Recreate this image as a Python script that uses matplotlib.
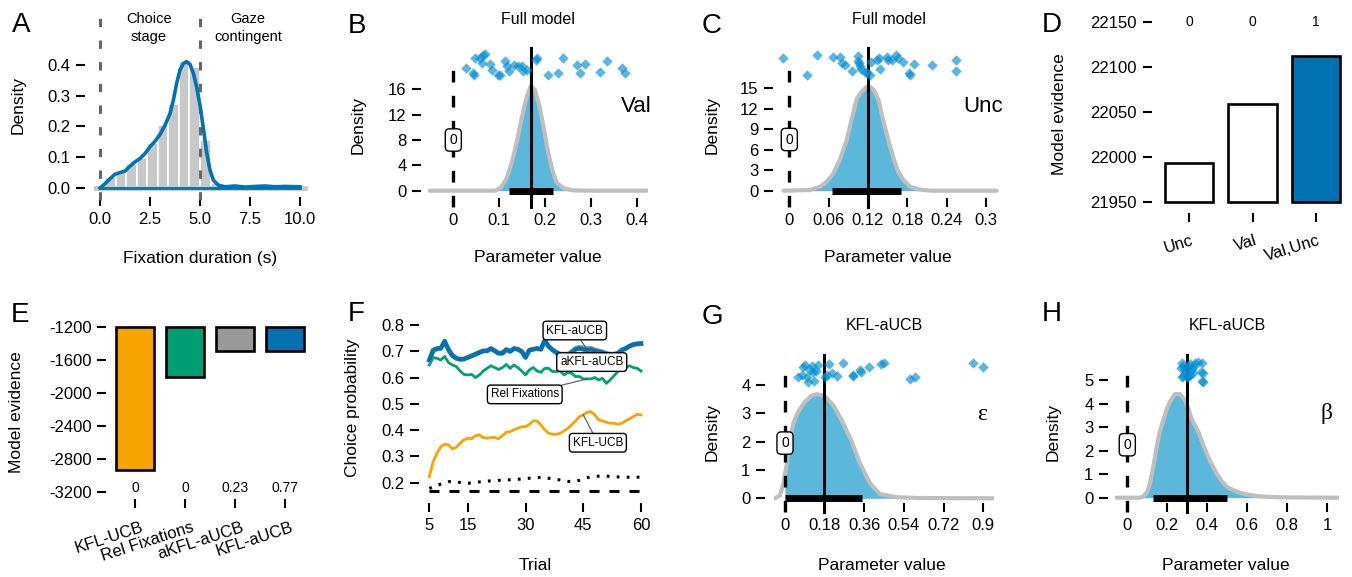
import numpy as np
import matplotlib
matplotlib.use('Agg')
import matplotlib.pyplot as plt
import matplotlib.transforms as mtransforms

plt.rcParams['font.family'] = ['Liberation Sans', 'DejaVu Sans']
plt.rcParams['axes.unicode_minus'] = False
plt.rcParams['lines.scale_dashes'] = False

# ---------------- data ----------------
# A: fixation durations
hist_range = (-0.26, 10.26)
hist_heights = [0.004, 0.036, 0.052, 0.079, 0.096, 0.145, 0.204, 0.272, 0.413, 0.392,
                0.155, 0.016, 0.004, 0.005, 0.003, 0.004, 0.003, 0.004, 0.003, 0.004]
kde_x = [0, 0.25, 0.5, 0.75, 1.0, 1.25, 1.5, 1.75, 2.0, 2.25, 2.5, 2.75, 3.0, 3.25, 3.5,
         3.67, 3.83, 4.0, 4.17, 4.33, 4.5, 4.67, 4.83, 5.0, 5.17, 5.33, 5.5, 5.67, 5.92,
         6.25, 6.75, 7.25, 7.75, 8.25, 8.75, 9.25, 10.0]
kde_y = [0, 0.014, 0.03, 0.045, 0.05, 0.055, 0.071, 0.085, 0.096, 0.112, 0.134, 0.152,
         0.174, 0.204, 0.242, 0.286, 0.34, 0.384, 0.405, 0.411, 0.402, 0.373, 0.329, 0.27,
         0.193, 0.117, 0.058, 0.025, 0.009, 0.004, 0.0065, 0.003, 0.005, 0.0065, 0.004,
         0.005, 0.004]
stage_bounds = [0, 5]

# B: Val parameter (full model)
B_dens_x = [-0.051, 0.09, 0.0945, 0.105, 0.116, 0.127, 0.138, 0.149, 0.160, 0.169, 0.178,
            0.188, 0.198, 0.207, 0.217, 0.225, 0.240, 0.262, 0.300, 0.422]
B_dens_y = [0, 0, 0.1, 0.6, 1.9, 4.3, 7.5, 11.4, 14.8, 16.5, 15.9, 13.3, 9.6, 5.9, 3.0,
            1.3, 0.4, 0.05, 0, 0]
B_pts_x = [0.028, 0.042, 0.047, 0.058, 0.064, 0.069, 0.062, 0.080, 0.084, 0.098, 0.113,
           0.117, 0.122, 0.132, 0.142, 0.149, 0.153, 0.160, 0.182, 0.207, 0.228, 0.239,
           0.269, 0.276, 0.287, 0.320, 0.335, 0.367, 0.375, 0.045, 0.102, 0.180]
B_pts_y = [19.3, 18.5, 20.9, 20.9, 21.4, 21.6, 20.1, 20.0, 19.0, 18.25, 20.5, 19.7, 18.9,
           19.8, 19.6, 19.7, 18.9, 19.1, 21.0, 18.25, 18.6, 20.9, 19.8, 18.6, 20.0, 18.8,
           20.5, 19.3, 18.6, 18.3, 18.2, 20.7]
B_median = 0.17
B_hdi = (0.122, 0.218)

# C: Unc parameter (full model)
C_dens_x = [-0.009, 0.0315, 0.047, 0.057, 0.067, 0.077, 0.0875, 0.095, 0.103, 0.110, 0.118,
            0.123, 0.129, 0.136, 0.143, 0.151, 0.159, 0.166, 0.174, 0.184, 0.197, 0.215, 0.316]
C_dens_y = [0, 0.1, 0.59, 1.3, 2.5, 4.5, 7.4, 10.4, 13.5, 14.5, 15.2, 15.2, 14.75, 13.3,
            10.4, 7.4, 4.7, 2.8, 1.6, 0.6, 0.2, 0, 0]
C_pts_x = [-0.009, 0.027, 0.042, 0.066, 0.077, 0.080, 0.085, 0.095, 0.105, 0.105, 0.107,
           0.108, 0.110, 0.116, 0.118, 0.123, 0.124, 0.133, 0.137, 0.139, 0.149, 0.151,
           0.156, 0.163, 0.166, 0.174, 0.182, 0.184, 0.190, 0.217, 0.255, 0.255]
C_pts_y = [19.4, 17.0, 19.9, 19.6, 19.6, 18.7, 18.4, 17.6, 19.7, 19.0, 18.7, 18.3, 17.9,
           17.4, 17.2, 16.9, 18.9, 19.1, 19.4, 17.9, 19.6, 19.1, 19.1, 19.9, 19.4, 18.9,
           17.2, 16.9, 18.6, 18.4, 19.1, 17.6]
C_median = 0.1205
C_hdi = (0.0656, 0.170)

# D: model evidence, full model variants
D_models = ['Unc', 'Val', 'Val,Unc']
D_evidence = [21994, 22059, 22113]
D_pxp = ['0', '0', '1']

# E: model evidence, model comparison
E_models = ['KFL-UCB', 'Rel Fixations', 'aKFL-aUCB', 'KFL-aUCB']
E_evidence = [-2936, -1808, -1485, -1490]
E_pxp = ['0', '0', '0.23', '0.77']

# F: choice probability over trials
trials = list(range(5, 61))
F_kfl_aucb = [0.667, 0.705, 0.711, 0.711, 0.739, 0.705, 0.683, 0.673, 0.669, 0.670,
              0.676, 0.682, 0.688, 0.695, 0.702, 0.701, 0.711, 0.701, 0.692, 0.692,
              0.707, 0.699, 0.711, 0.707, 0.699, 0.676, 0.705, 0.707, 0.711, 0.707,
              0.743, 0.718, 0.705, 0.695, 0.688, 0.688, 0.686, 0.695, 0.707, 0.711,
              0.707, 0.705, 0.707, 0.701, 0.699, 0.695, 0.690, 0.688, 0.688, 0.692,
              0.705, 0.711, 0.720, 0.726, 0.729, 0.730]
F_akfl_aucb = [0.665, 0.700, 0.708, 0.712, 0.735, 0.708, 0.686, 0.675, 0.670, 0.672,
               0.678, 0.684, 0.690, 0.697, 0.700, 0.703, 0.709, 0.703, 0.694, 0.694,
               0.705, 0.701, 0.709, 0.709, 0.701, 0.680, 0.703, 0.709, 0.709, 0.709,
               0.738, 0.720, 0.707, 0.697, 0.690, 0.690, 0.690, 0.700, 0.712, 0.716,
               0.714, 0.712, 0.712, 0.706, 0.702, 0.698, 0.693, 0.690, 0.690, 0.694,
               0.703, 0.710, 0.718, 0.724, 0.727, 0.728]
F_relfix = [0.648, 0.676, 0.673, 0.667, 0.680, 0.657, 0.648, 0.642, 0.625, 0.612,
            0.610, 0.612, 0.600, 0.610, 0.625, 0.635, 0.645, 0.638, 0.631, 0.638,
            0.650, 0.635, 0.648, 0.638, 0.625, 0.610, 0.629, 0.638, 0.625, 0.620,
            0.635, 0.635, 0.623, 0.623, 0.625, 0.610, 0.620, 0.616, 0.604, 0.604,
            0.595, 0.595, 0.595, 0.600, 0.591, 0.597, 0.578, 0.591, 0.607, 0.623,
            0.635, 0.638, 0.645, 0.638, 0.635, 0.625]
F_kfl_ucb = [0.223, 0.280, 0.312, 0.337, 0.346, 0.344, 0.329, 0.334, 0.350, 0.363,
             0.369, 0.367, 0.379, 0.382, 0.372, 0.369, 0.372, 0.372, 0.367, 0.379,
             0.392, 0.394, 0.401, 0.407, 0.413, 0.413, 0.422, 0.435, 0.435, 0.420,
             0.401, 0.388, 0.384, 0.384, 0.388, 0.397, 0.407, 0.420, 0.435, 0.451,
             0.458, 0.468, 0.470, 0.458, 0.439, 0.435, 0.430, 0.426, 0.426, 0.422,
             0.426, 0.435, 0.443, 0.451, 0.460, 0.458]
F_random = [0.178, 0.184, 0.189, 0.195, 0.200, 0.204, 0.204, 0.203, 0.201, 0.199,
            0.198, 0.199, 0.201, 0.203, 0.205, 0.206, 0.207, 0.208, 0.209, 0.210,
            0.211, 0.211, 0.212, 0.213, 0.214, 0.216, 0.217, 0.218, 0.219, 0.220,
            0.219, 0.217, 0.215, 0.213, 0.210, 0.207, 0.205, 0.204, 0.206, 0.209,
            0.214, 0.219, 0.222, 0.224, 0.225, 0.226, 0.225, 0.224, 0.223, 0.222,
            0.221, 0.221, 0.221, 0.221, 0.221, 0.221]
F_chance = 1 / 6

# G: epsilon (KFL-aUCB)
G_dens_x = [-0.045, -0.023, -0.0075, 0.0, 0.0076, 0.023, 0.038, 0.06, 0.091, 0.12, 0.144,
            0.18, 0.219, 0.257, 0.30, 0.34, 0.386, 0.43, 0.507, 0.6, 0.945]
G_dens_y = [0, 0.1, 0.5, 0.85, 1.2, 2.1, 2.65, 3.06, 3.41, 3.62, 3.68, 3.61, 3.29, 2.76,
            2.06, 1.24, 0.53, 0.15, 0.04, 0.01, 0]
G_pts_x = [0.061, 0.076, 0.083, 0.091, 0.098, 0.106, 0.113, 0.121, 0.129, 0.132, 0.141,
           0.151, 0.182, 0.189, 0.201, 0.212, 0.234, 0.265, 0.307, 0.310, 0.340, 0.343,
           0.381, 0.434, 0.449, 0.567, 0.590, 0.855, 0.897]
G_pts_y = [4.27, 4.35, 4.65, 4.71, 4.27, 4.12, 4.53, 4.67, 4.47, 4.15, 4.51, 4.71, 4.27,
           4.35, 4.74, 4.41, 4.32, 4.79, 4.35, 4.32, 4.53, 4.47, 4.65, 4.74, 4.79, 4.2,
           4.27, 4.79, 4.65]
G_median = 0.177
G_hdi = (0.0, 0.348)

# H: beta (KFL-aUCB)
H_dens_x = [-0.053, 0.06, 0.08, 0.1, 0.113, 0.13, 0.147, 0.163, 0.18, 0.197, 0.213, 0.238,
            0.263, 0.288, 0.305, 0.32, 0.337, 0.355, 0.375, 0.397, 0.42, 0.447, 0.47,
            0.497, 0.53, 0.563, 0.6, 0.647, 0.7, 0.75, 0.85, 1.055]
H_dens_y = [0, 0, 0.05, 0.25, 0.6, 1.3, 2.17, 2.8, 3.3, 3.75, 4.08, 4.4, 4.4, 4.15, 3.8,
            3.37, 3.1, 2.8, 2.35, 1.88, 1.45, 1.03, 0.72, 0.47, 0.32, 0.21, 0.13, 0.07,
            0.04, 0.02, 0.01, 0]
H_pts_x = [0.272, 0.280, 0.288, 0.297, 0.305, 0.313, 0.322, 0.330, 0.280, 0.297, 0.313,
           0.327, 0.338, 0.355, 0.372, 0.272, 0.305, 0.367, 0.377, 0.372, 0.380, 0.267, 0.288]
H_pts_y = [5.71, 5.59, 5.42, 5.50, 5.59, 5.68, 5.45, 5.57, 5.17, 5.14, 5.21, 5.31, 5.71,
           5.78, 5.71, 5.11, 5.11, 5.35, 5.28, 4.97, 4.93, 5.50, 5.28]
H_median = 0.297
H_hdi = (0.127, 0.497)

# ---------------- style ----------------
ORANGE, GREEN, GREY, BLUE = '#F7A300', '#009E73', '#999999', '#0072B2'
FILL = '#5BB8DB'
CURVE = '#BEBEBE'
PTS = '#008CD2'
TICK_FS, LAB_FS = 12, 12.5

W, H = 1352, 577
fig = plt.figure(figsize=(W / 100, H / 100), dpi=100)


def ptext(px, py, s, **kw):
    kw.setdefault('ha', 'center')
    kw.setdefault('va', 'center')
    return fig.text(px / W, 1 - py / H, s, **kw)


def place(ax, xref, yref, xlim, ylim, ytick_px, xtick_px):
    # xref / yref: (value0, pixel0, value1, pixel1)
    xv0, xp0, xv1, xp1 = xref
    sx = (xp1 - xp0) / (xv1 - xv0)
    left = xp0 + (xlim[0] - xv0) * sx
    right = xp0 + (xlim[1] - xv0) * sx
    yv0, yp0, yv1, yp1 = yref
    sy = (yp1 - yp0) / (yv1 - yv0)
    bot = yp0 + (ylim[0] - yv0) * sy
    top = yp0 + (ylim[1] - yv0) * sy
    ax.set_position([left / W, 1 - bot / H, (right - left) / W, (bot - top) / H])
    ax.set_xlim(xlim)
    ax.set_ylim(ylim)
    ax.spines['left'].set_position(('outward', (left - ytick_px) * 0.72))
    ax.spines['bottom'].set_position(('outward', (xtick_px - bot) * 0.72))
    for s in ax.spines.values():
        s.set_visible(False)
    ax.tick_params(length=6.5, width=1.5, labelsize=TICK_FS, pad=4)
    ax.patch.set_visible(False)


def posterior(ax, dx, dy, ptx, pty, med, hdi, zero_y, dash_top, line_top, bottom,
              fill_from=None):
    dx = np.asarray(dx)
    dy = np.asarray(dy)
    where = None if fill_from is None else dx >= fill_from
    ax.fill_between(dx, dy, where=where, color=FILL, lw=0, zorder=1)
    ax.plot(dx, dy, color=CURVE, lw=3, zorder=2, solid_capstyle='round')
    ax.plot([0, 0], [bottom, dash_top], color='black', lw=2.4, dashes=(8.4, 9.6),
            clip_on=False, zorder=3)
    ax.plot(hdi, [0, 0], color='black', lw=5, solid_capstyle='butt', zorder=4)
    ax.plot([med, med], [bottom, line_top], color='black', lw=2.2, clip_on=False, zorder=4)
    ax.scatter(ptx, pty, marker='D', s=28, color=PTS, alpha=0.65, lw=0, zorder=5,
               clip_on=False)
    ax.text(0, zero_y, '0', ha='center', va='center', fontsize=10, zorder=6,
            bbox=dict(boxstyle='round,pad=0.3', fc='white', ec='black', lw=1))


# ---------------- A ----------------
axA = fig.add_axes([0, 0, 1, 1])
place(axA, (0, 100, 10, 300), (0, 188, 0.4, 65), (-0.3, 10.4), (-0.029, 0.45), 85, 197)
edges = np.linspace(hist_range[0], hist_range[1], len(hist_heights) + 1)
bw = edges[1] - edges[0]
axA.bar(edges[:-1] + bw / 2, hist_heights, width=bw, color='#C8C8C8', edgecolor='white',
        lw=1.2, zorder=1)
axA.plot([edges[0], edges[-1]], [0, 0], color='#C8C8C8', lw=3.5, zorder=1)
axA.plot(kde_x, kde_y, color=BLUE, lw=2.6, zorder=3)
axA.plot([kde_x[0], kde_x[-1]], [0, 0], color=BLUE, lw=2, zorder=3)
for b in stage_bounds:
    axA.plot([b, b], [-0.04, 0.572], color='#666666', lw=2.2, dashes=(6, 9.6),
             clip_on=False, zorder=2)
axA.set_xticks([0, 2.5, 5, 7.5, 10], ['0.0', '2.5', '5.0', '7.5', '10.0'])
axA.set_yticks([0, 0.1, 0.2, 0.3, 0.4], ['0.0', '0.1', '0.2', '0.3', '0.4'])
ptext(149, 28, 'Choice\nstage', fontsize=10.5, linespacing=1.45)
ptext(248, 28, 'Gaze\ncontingent', fontsize=10.5, linespacing=1.45)
ptext(18, 105, 'Density', rotation=90, fontsize=LAB_FS)
ptext(200, 258, 'Fixation duration (s)', fontsize=LAB_FS)

# ---------------- B ----------------
axB = fig.add_axes([0, 0, 1, 1])
place(axB, (0, 453.3, 0.4, 636.7), (0, 190.7, 16, 89.3), (-0.055, 0.425), (-1.0, 23),
      421, 198)
posterior(axB, B_dens_x, B_dens_y, B_pts_x, B_pts_y, B_median, B_hdi, 8, 20.6, 22.5, -2.5)
axB.set_xticks([0, 0.1, 0.2, 0.3, 0.4], ['0', '0.1', '0.2', '0.3', '0.4'])
axB.set_yticks([0, 4, 8, 12, 16])
ptext(538, 20, 'Full model', fontsize=11.5)
ptext(636, 107, 'Val', fontsize=16)
ptext(358, 125, 'Density', rotation=90, fontsize=LAB_FS)
ptext(538, 257, 'Parameter value', fontsize=LAB_FS)

# ---------------- C ----------------
axC = fig.add_axes([0, 0, 1, 1])
place(axC, (0, 789.3, 0.3, 986), (0, 190.7, 15, 88.3), (-0.012, 0.32), (-1.0, 22),
      773.3, 198.3)
posterior(axC, C_dens_x, C_dens_y, C_pts_x, C_pts_y, C_median, C_hdi, 7.5, 19.1, 20.9, -2.35)
axC.set_xticks([0, 0.06, 0.12, 0.18, 0.24, 0.3], ['0', '0.06', '0.12', '0.18', '0.24', '0.3'])
axC.set_yticks([0, 3, 6, 9, 12, 15])
ptext(889, 20, 'Full model', fontsize=11.5)
ptext(983, 106, 'Unc', fontsize=16)
ptext(712, 125, 'Density', rotation=90, fontsize=LAB_FS)
ptext(888, 257, 'Parameter value', fontsize=LAB_FS)

# ---------------- D ----------------
axD = fig.add_axes([0, 0, 1, 1])
place(axD, (0, 1189, 2, 1316), (21950, 202.3, 22150, 22.3), (-0.55, 2.55), (21945, 22165),
      1151.7, 213.3)
D_base = 21950
D_colors = ['white', 'white', BLUE]
xD = np.arange(len(D_models))
axD.bar(xD, np.array(D_evidence) - D_base, bottom=D_base, width=0.77, color=D_colors,
        edgecolor='black', lw=1.9)
for i, lab in enumerate(D_pxp):
    axD.text(i, 22150, lab, ha='center', va='center', fontsize=10)
axD.set_yticks([21950, 22000, 22050, 22100, 22150])
axD.set_xticks(xD, [''] * len(D_models))
trD = mtransforms.blended_transform_factory(axD.transData, fig.transFigure) + \
    mtransforms.ScaledTranslation(4 / 100, 0, fig.dpi_scale_trans)
for i, lab in enumerate(D_models):
    axD.text(i, 1 - 240 / H, lab, transform=trD, rotation=17, ha='right', va='center',
             rotation_mode='anchor', fontsize=TICK_FS)
ptext(1060, 114, 'Model evidence', rotation=90, fontsize=LAB_FS)

# ---------------- E ----------------
axE = fig.add_axes([0, 0, 1, 1])
place(axE, (0, 135, 3, 285), (-1200, 327.3, -3200, 491.7), (-0.58, 3.6), (-3230, -1170),
      106, 499.3)
E_top = -1200
E_colors = [ORANGE, GREEN, GREY, BLUE]
xE = np.arange(len(E_models))
axE.bar(xE, np.array(E_evidence) - E_top, bottom=E_top, width=0.75, color=E_colors,
        edgecolor='black', lw=1.9)
for i, lab in enumerate(E_pxp):
    axE.text(i, -3159, lab, ha='center', va='center', fontsize=10)
axE.set_yticks([-3200, -2800, -2400, -2000, -1600, -1200])
axE.set_xticks(xE, [''] * len(E_models))
trE = mtransforms.blended_transform_factory(axE.transData, fig.transFigure) + \
    mtransforms.ScaledTranslation(8 / 100, 0, fig.dpi_scale_trans)
for i, lab in enumerate(E_models):
    axE.text(i, 1 - 527 / H, lab, transform=trE, rotation=18, ha='right', va='center',
             rotation_mode='anchor', fontsize=TICK_FS)
ptext(17, 412, 'Model evidence', rotation=90, fontsize=LAB_FS)

# ---------------- F ----------------
axF = fig.add_axes([0, 0, 1, 1])
place(axF, (5, 429.3, 60, 641), (0.8, 325, 0.2, 482.7), (3, 62), (0.13, 0.83), 419.3, 503.3)
axF.hlines(F_chance, trials[0], trials[-1], color='black', lw=2.2, linestyles=(0, (7.2, 7.2)))
axF.plot(trials, F_random, color='black', lw=2.2, dashes=(2, 5.2))
axF.plot(trials, F_kfl_ucb, color=ORANGE, lw=2)
axF.plot(trials, F_relfix, color=GREEN, lw=2)
axF.plot(trials, F_akfl_aucb, color=GREY, lw=3.2)
axF.plot(trials, F_kfl_aucb, color=BLUE, lw=3.2)
box = dict(boxstyle='round,pad=0.28', fc='white', ec='black', lw=1)
arrow = dict(arrowstyle='-', color='#555555', lw=0.8, shrinkA=0, shrinkB=0)
F_labels = [('KFL-aUCB', 46, F_kfl_aucb, (42.8, 0.779)),
            ('aKFL-aUCB', 48, F_akfl_aucb, (47.2, 0.659)),
            ('Rel Fixations', 46, F_relfix, (29.8, 0.536)),
            ('KFL-UCB', 45, F_kfl_ucb, (48.8, 0.352))]
for name, t, series, pos in F_labels:
    axF.annotate(name, xy=(t, series[trials.index(t)]), xytext=pos, ha='center',
                 va='center', fontsize=8.5, bbox=box, arrowprops=arrow, zorder=6)
axF.set_xticks([5, 15, 30, 45, 60])
axF.set_yticks([0.2, 0.3, 0.4, 0.5, 0.6, 0.7, 0.8])
ptext(352, 408, 'Choice probability', rotation=90, fontsize=LAB_FS)
ptext(535, 565, 'Trial', fontsize=LAB_FS)

# ---------------- G ----------------
axG = fig.add_axes([0, 0, 1, 1])
place(axG, (0, 785, 0.9, 983.3), (0, 498.3, 4, 385), (-0.05, 0.95), (-0.15, 5.3), 765, 503.3)
posterior(axG, G_dens_x, G_dens_y, G_pts_x, G_pts_y, G_median, G_hdi, 1.95, 4.65, 5.06,
          -0.47, fill_from=0)
axG.set_xticks([0, 0.18, 0.36, 0.54, 0.72, 0.9], ['0', '0.18', '0.36', '0.54', '0.72', '0.9'])
axG.set_yticks([0, 1, 2, 3, 4])
ptext(884, 325, 'KFL-aUCB', fontsize=11.5)
ptext(982, 415, '\u03b5', fontsize=17, family=['Liberation Serif', 'DejaVu Serif'])
ptext(712, 432, 'Density', rotation=90, fontsize=LAB_FS)
ptext(882, 565, 'Parameter value', fontsize=LAB_FS)

# ---------------- H ----------------
axH = fig.add_axes([0, 0, 1, 1])
place(axH, (0, 1127.3, 1, 1327.3), (0, 497.7, 5, 380), (-0.06, 1.06), (-0.2, 6.4), 1108, 503.3)
posterior(axH, H_dens_x, H_dens_y, H_pts_x, H_pts_y, H_median, H_hdi, 2.25, 5.56, 6.06, -0.59)
axH.set_xticks([0, 0.2, 0.4, 0.6, 0.8, 1.0], ['0', '0.2', '0.4', '0.6', '0.8', '1'])
axH.set_yticks([0, 1, 2, 3, 4, 5])
ptext(1227, 325, 'KFL-aUCB', fontsize=11.5)
ptext(1327, 413, '\u03b2', fontsize=17, family=['Liberation Serif', 'DejaVu Serif'])
ptext(1053, 432, 'Density', rotation=90, fontsize=LAB_FS)
ptext(1226, 565, 'Parameter value', fontsize=LAB_FS)

# panel letters
for letter, (lx, ly) in zip('ABCDEFGH', [(21, 25), (357, 26), (712, 26), (1052, 25),
                                          (20, 315), (356, 314), (712, 317), (1052, 314)]):
    ptext(lx, ly, letter, fontsize=20)

fig.savefig('out.png', dpi=100)
